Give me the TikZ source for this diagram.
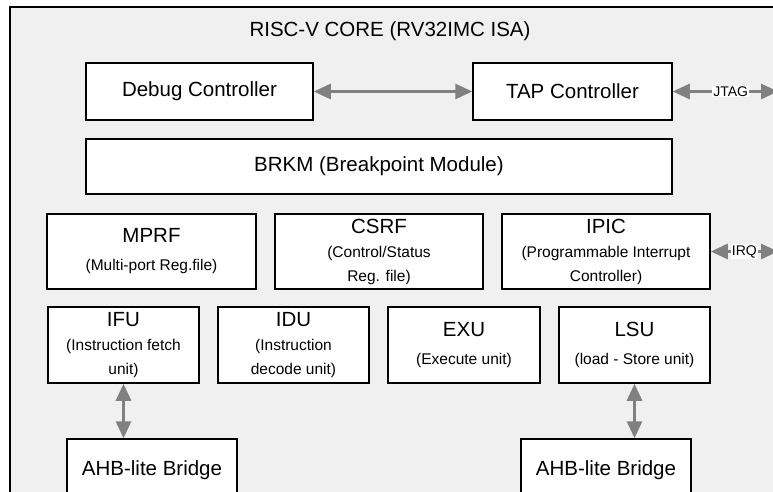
\documentclass[tikz,border=0pt]{standalone}
\usepackage{fontspec}
\setmainfont{Liberation Sans}
\usetikzlibrary{arrows.meta}
\definecolor{corebg}{HTML}{F0F0F0}
\definecolor{linkgray}{HTML}{808080}
\newcommand{\blkhead}{\fontsize{20.5}{24}\selectfont}
\newcommand{\blksub}{\fontsize{15.5}{24}\selectfont}
\tikzset{blk/.style={draw,line width=1.5pt,fill=white,align=center,inner sep=0pt,font=\blksub},
link/.style={draw=linkgray,line width=2.8pt,{Triangle[length=17pt,width=15pt]}-{Triangle[length=17pt,width=15pt]}},
sig/.style={fill=white,inner sep=1pt,font=\fontsize{14}{14}\selectfont}}

\begin{document}
\begin{tikzpicture}[x=1pt,y=-1pt]
\useasboundingbox(0,0)rectangle(773,492);\clip(0,0)rectangle(773,492);
\draw[line width=2pt,fill=corebg](10,7)rectangle(800,520);
\node(title)at(390,31){\blkhead RISC-V CORE (RV32IMC ISA)};
% debug path
\node[blk,minimum width=227pt,minimum height=57pt](dbg)at(199.5,91.5){\blkhead Debug Controller};
\node[blk,minimum width=199pt,minimum height=57pt](tap)at(572.5,91.5){\blkhead TAP Controller};
\node[blk,minimum width=586pt,minimum height=55pt](brkm)at(379,166.5){\blkhead BRKM (Breakpoint Module)};
\coordinate(jtag)at(778,91.5);
\draw[link](dbg)--(tap);
\draw[link](tap)--node[sig,pos=.55]{JTAG}(jtag);
% register files
\node[blk,minimum width=209pt,minimum height=75pt](mprf)at(151.5,251.5){{\blkhead MPRF}\\[4pt](Multi-port Reg.file)};
\node[blk,minimum width=208pt,minimum height=75pt](csrf)at(379,251.5){{\blkhead CSRF}\\(Control/Status\\Reg. file)};
\node[blk,minimum width=208pt,minimum height=75pt](ipic)at(606,251.5){{\blkhead IPIC}\\(Programmable Interrupt\\Controller)};
\coordinate(irq)at(778,251.5);
\draw[link](ipic)--node[sig,pos=.5]{IRQ}(irq);
% pipeline
\node[blk,minimum width=151pt,minimum height=76pt](ifu)at(123.5,345){{\blkhead IFU}\\(Instruction fetch\\unit)};
\node[blk,minimum width=151pt,minimum height=76pt](idu)at(293.5,345){{\blkhead IDU}\\(Instruction\\decode unit)};
\node[blk,minimum width=152pt,minimum height=76pt](exu)at(464,345){{\blkhead EXU}\\[4pt](Execute unit)};
\node[blk,minimum width=151pt,minimum height=76pt](lsu)at(634.5,345){{\blkhead LSU}\\[4pt](load - Store unit)};
% bus bridges
\node[blk,minimum width=170pt,minimum height=63pt](ahbi)at(152,470.5){\blkhead AHB-lite Bridge};
\node[blk,minimum width=170pt,minimum height=63pt](ahbd)at(606,470.5){\blkhead AHB-lite Bridge};
\draw[link](ifu.south)--(ifu.south|-ahbi.north);
\draw[link](lsu.south)--(lsu.south|-ahbd.north);
\end{tikzpicture}
\end{document}
